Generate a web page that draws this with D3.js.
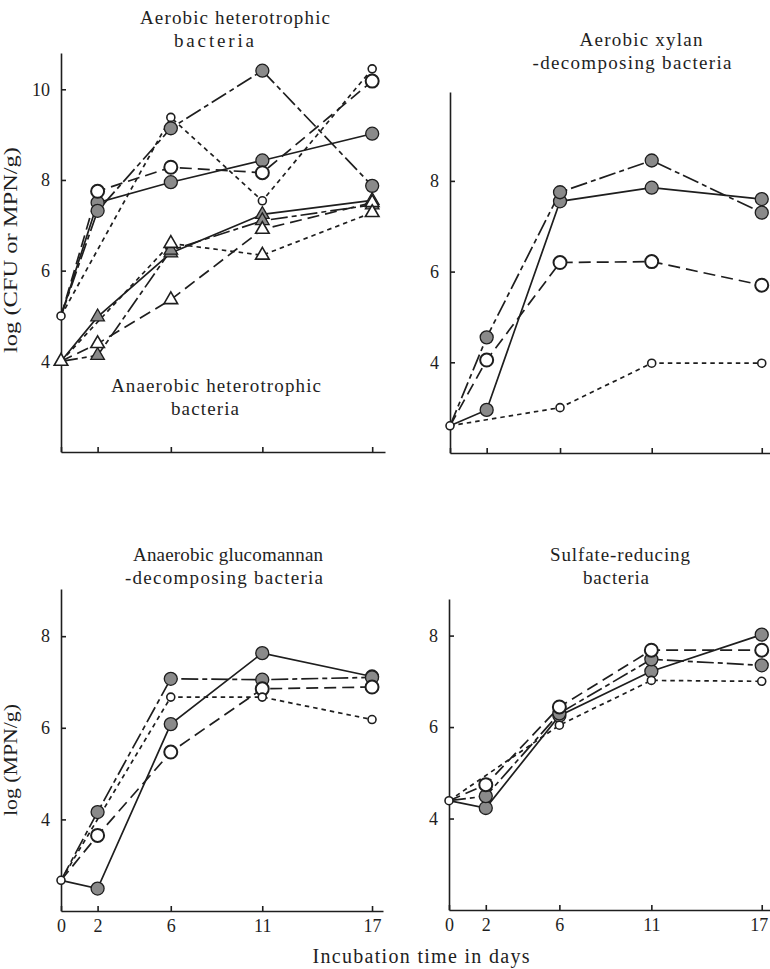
<!DOCTYPE html>
<html><head><meta charset="utf-8">
<script src="https://cdn.jsdelivr.net/npm/d3@7"></script>
<style>
body{margin:0;background:#fff}
text{font-family:"Liberation Serif","Times New Roman",serif;fill:#1e1e1e}
</style>
</head><body>
<svg id="chart" width="770" height="969"></svg>
<script>
// ---------- DATA ----------
const days = [0, 2, 6, 11, 17];

// Top-left: aerobic heterotrophic (circles)
const aeroHetSolid   = [5.0, 7.5, 7.95, 8.43, 9.02];
const aeroHetDashDot = [5.0, 7.32, 9.14, 10.41, 7.87];
const aeroHetDashed  = [5.0, 7.75, 8.28, 8.16, 10.18];
const aeroHetShort   = [5.0, null, 9.38, 7.54, 10.45];
// Top-left: anaerobic heterotrophic (triangles)
const anaeHetSolid   = [4.0, 4.98, 6.39, 7.24, 7.55];
const anaeHetDashDot = [4.0, 4.13, 6.45, 7.1, 7.45];
const anaeHetDashed  = [4.0, 4.39, 5.36, 6.91, 7.5];
const anaeHetShort   = [4.0, null, 6.6, 6.34, 7.28];
// Top-right: aerobic xylan-decomposing
const xylanSolid   = [2.6, 2.95, 7.55, 7.85, 7.6];
const xylanDashDot = [2.6, 4.55, 7.75, 8.45, 7.3];
const xylanDashed  = [2.6, 4.05, 6.2, 6.22, 5.7];
const xylanShort   = [2.6, null, 3.0, 3.98, 3.98];
// Bottom-left: anaerobic glucomannan-decomposing
const glucoSolid   = [2.67, 2.49, 6.08, 7.63, 7.12];
const glucoDashDot = [2.67, 4.16, 7.07, 7.05, 7.1];
const glucoDashed  = [2.67, 3.65, 5.47, 6.85, 6.89];
const glucoShort   = [2.67, null, 6.67, 6.67, 6.18];
// Bottom-right: sulfate-reducing
const sulfSolid   = [4.39, 4.23, 6.25, 7.22, 8.02];
const sulfDashDot = [4.39, 4.49, 6.3, 7.48, 7.35];
const sulfDashed  = [4.39, 4.74, 6.44, 7.68, 7.68];
const sulfShort   = [4.39, null, 6.04, 7.02, 7.0];

const yTicksTL = [4, 6, 8, 10];
const yTicksOther = [4, 6, 8];
const xTickLabels = ["0", "2", "6", "11", "17"];

const titleTL = ["Aerobic heterotrophic", "bacteria"];
const innerTL = ["Anaerobic heterotrophic", "bacteria"];
const titleTR = ["Aerobic xylan", "-decomposing bacteria"];
const titleBL = ["Anaerobic glucomannan", "-decomposing bacteria"];
const titleBR = ["Sulfate-reducing", "bacteria"];
const yLabelTop = "log (CFU or MPN/g)";
const yLabelBottom = "log (MPN/g)";
const xLabel = "Incubation time in days";

// ---------- STYLES ----------
const lineStyles = {
  solid:   {dash: null,         marker: "filled"},
  dashdot: {dash: "17,4,5,4",   marker: "filled"},
  dashed:  {dash: "12,6",       marker: "openLarge"},
  short:   {dash: "4.5,4",      marker: "openSmall"}
};
const INK = "#1e1e1e", GRAY = "#8a8a8a";

const svg = d3.select("#chart");

const panels = [
  {x: [61, 385], xd: 17.7, y: [452, 53], yd: 10.8, yTicks: yTicksTL, xLabels: false,
   groups: [
     {shape: "circle", series: [["solid", aeroHetSolid], ["dashdot", aeroHetDashDot], ["dashed", aeroHetDashed], ["short", aeroHetShort]]},
     {shape: "triangle", series: [["solid", anaeHetSolid], ["dashdot", anaeHetDashDot], ["dashed", anaeHetDashed], ["short", anaeHetShort]]}
   ]},
  {x: [450, 770], xd: 17.45, y: [453, 92], yd: 9.96, yTicks: yTicksOther, xLabels: false,
   groups: [{shape: "circle", series: [["solid", xylanSolid], ["dashdot", xylanDashDot], ["dashed", xylanDashed], ["short", xylanShort]]}]},
  {x: [61, 383], xd: 17.6, y: [911, 589], yd: 9.03, yTicks: yTicksOther, xLabels: true,
   groups: [{shape: "circle", series: [["solid", glucoSolid], ["dashdot", glucoDashDot], ["dashed", glucoDashed], ["short", glucoShort]]}]},
  {x: [449, 770], xd: 17.45, y: [910, 599], yd: 8.8, yTicks: yTicksOther, xLabels: true,
   groups: [{shape: "circle", series: [["solid", sulfSolid], ["dashdot", sulfDashDot], ["dashed", sulfDashed], ["short", sulfShort]]}]}
];

panels.forEach(p => {
  const xs = d3.scaleLinear().domain([0, p.xd]).range(p.x);
  const ys = d3.scaleLinear().domain([2, p.yd]).range(p.y);
  const g = svg.append("g");

  // axes
  const ax = g.append("g").attr("transform", `translate(0,${p.y[0]})`)
    .call(d3.axisBottom(xs).tickValues(days)
      .tickFormat((d, i) => p.xLabels ? xTickLabels[i] : "")
      .tickSizeInner(-5).tickSizeOuter(0).tickPadding(8));
  const ay = g.append("g").attr("transform", `translate(${p.x[0]},0)`)
    .call(d3.axisLeft(ys).tickValues(p.yTicks).tickFormat(d3.format("d"))
      .tickSizeInner(-5).tickSizeOuter(0).tickPadding(11));
  [ax, ay].forEach(a => {
    a.select(".domain").attr("stroke", INK).attr("stroke-width", 1.6);
    a.selectAll(".tick line").attr("stroke", INK).attr("stroke-width", 1.6);
    a.selectAll(".tick text").attr("font-size", 18).attr("fill", INK)
      .style("font-family", '"Liberation Serif",serif');
  });
  ax.selectAll(".tick text").attr("dy", "0.71em")
    .attr("dx", (d, i) => (i === days.length - 1 && p.x[1] > 760) ? -3 : 0);

  const line = d3.line().x(d => xs(d.t)).y(d => ys(d.v));

  p.groups.forEach(gr => {
    gr.series.forEach(([style, vals]) => {
      const pts = days.map((t, i) => ({t, v: vals[i]})).filter(d => d.v != null);
      g.append("path").datum(pts).attr("d", line)
        .attr("fill", "none").attr("stroke", INK).attr("stroke-width", 1.7)
        .attr("stroke-dasharray", lineStyles[style].dash);
    });
  });
  p.groups.forEach(gr => {
    gr.series.forEach(([style, vals]) => {
      const mk = lineStyles[style].marker;
      const pts = days.map((t, i) => ({t, v: vals[i]}))
        .filter((d, i) => d.v != null && (i > 0 || style === "short"));
      const fill = mk === "filled" ? GRAY : "#fff";
      const sw = mk === "openSmall" ? 1.6 : (mk === "filled" ? 1.3 : 2);
      if (gr.shape === "circle") {
        const r = mk === "openSmall" ? 4 : 6.5;
        g.selectAll(null).data(pts).enter().append("circle")
          .attr("cx", d => xs(d.t)).attr("cy", d => ys(d.v)).attr("r", r)
          .attr("fill", fill).attr("stroke", INK).attr("stroke-width", sw);
      } else {
        const sym = d3.symbol(d3.symbolTriangle, 80);
        g.selectAll(null).data(pts).enter().append("path")
          .attr("d", sym)
          .attr("transform", d => `translate(${xs(d.t)},${ys(d.v)})`)
          .attr("fill", fill).attr("stroke", INK).attr("stroke-width", mk === "filled" ? 1.3 : 1.6);
      }
    });
  });
});

// ---------- TEXT ----------
function label(txt, x, y, size, len) {
  const t = svg.append("text").attr("x", x).attr("y", y).attr("text-anchor", "middle")
    .attr("font-size", size).text(txt);
  if (len) t.attr("textLength", len).attr("lengthAdjust", "spacing");
  return t;
}
label(titleTL[0], 235, 24, 19, 190);
label(titleTL[1], 214, 47, 19, 80);
label(innerTL[0], 216, 392, 19, 210);
label(innerTL[1], 205, 415, 19, 68);
label(titleTR[0], 641, 46, 19, 123);
label(titleTR[1], 632, 69, 19, 199);
label(titleBL[0], 228, 561, 19, 190);
label(titleBL[1], 224, 584, 19, 198);
label(titleBR[0], 620, 561, 19, 140);
label(titleBR[1], 616, 584, 19, 66);
label(xLabel, 421, 963, 20, 217);

svg.append("text").attr("transform", "translate(17,250) rotate(-90)")
  .attr("text-anchor", "middle").attr("font-size", 18)
  .attr("textLength", 206).attr("lengthAdjust", "spacingAndGlyphs").text(yLabelTop);
svg.append("text").attr("transform", "translate(17,760) rotate(-90)")
  .attr("text-anchor", "middle").attr("font-size", 18)
  .attr("textLength", 112).attr("lengthAdjust", "spacingAndGlyphs").text(yLabelBottom);
</script>
</body></html>
